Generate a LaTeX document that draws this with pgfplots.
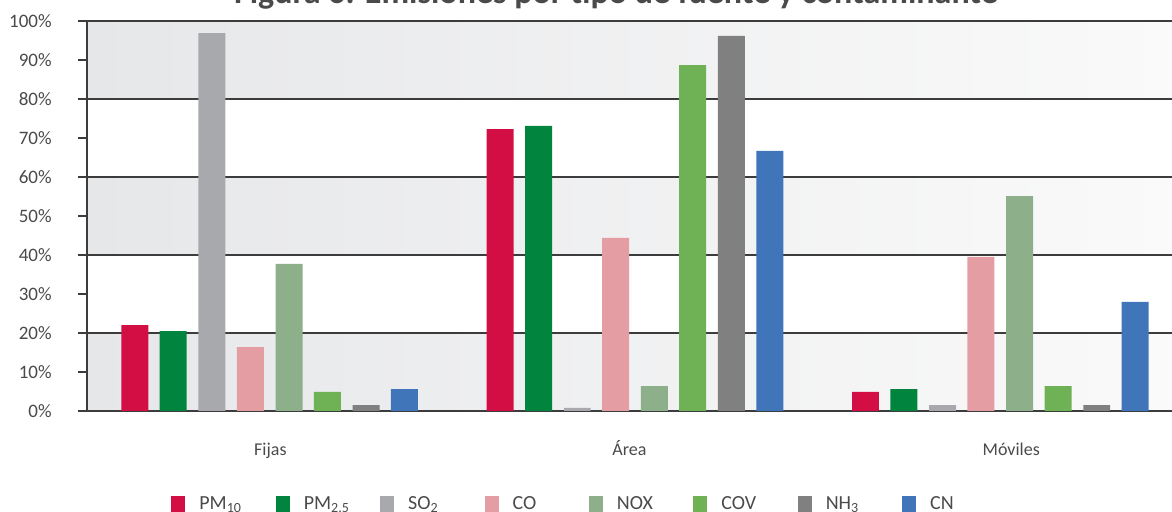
\documentclass[border=0pt]{standalone}
\usepackage{fontspec}
\setmainfont{Carlito}
\usepackage{pgfplots}
\pgfplotsset{compat=1.18}

\definecolor{cPMa}{HTML}{D30E45}
\definecolor{cPMb}{HTML}{00843E}
\definecolor{cSO}{HTML}{A8A9AC}
\definecolor{cCO}{HTML}{E39DA3}
\definecolor{cNOX}{HTML}{8DAF8A}
\definecolor{cCOV}{HTML}{6EB255}
\definecolor{cNH}{HTML}{808080}
\definecolor{cCN}{HTML}{4175BA}
\definecolor{bandL}{HTML}{E6E7E9}
\definecolor{bandR}{HTML}{FAFAFA}
\definecolor{txt}{HTML}{4A4A4A}
\definecolor{lin}{HTML}{3C3C3C}

\begin{document}
\begin{tikzpicture}
  \begin{axis}[
      set layers,
      at={(0pt,0pt)}, anchor=south west,
      scale only axis,
      width=542.5pt, height=195pt,
      xmin=-0.5, xmax=2.47,
      ymin=0, ymax=100,
      axis x line*=bottom,
      axis y line*=left,
      axis line style={lin, line width=0.6pt},
      % label positions (not quite centred)
      xtick={0.002,0.985,2.03},
      xticklabels={Fijas, Área, Móviles},
      xtick style={draw=none},
      xticklabel style={font=\fontsize{9}{10}\selectfont, text=txt,
        anchor=base, inner sep=0pt, yshift=-18pt},
      ytick={0,10,...,100},
      yticklabels={0\%,10\%,20\%,30\%,40\%,50\%,60\%,70\%,80\%,90\%,100\%},
      yticklabel style={font=\fontsize{9.5}{11}\selectfont, text=txt,
        anchor=east, inner sep=0pt, xshift=-13pt},
      tick align=outside,
      major tick length=4.5pt,
      ytick style={lin, line width=0.6pt},
      extra y ticks={20,40,60,80,100},
      extra y tick labels={},
      extra y tick style={grid=major},
      major grid style={lin, line width=0.7pt},
      every axis plot/.append style={ybar, bar width=0.0738, draw=none,
        legend image code/.code={\fill[##1] (0pt,-4.25pt) rectangle (7pt,4.25pt);}},
      legend columns=8,
      legend style={at={(0.0774,-0.2410)}, anchor=west, draw=none, fill=none,
        inner sep=0pt, font=\fontsize{10}{11}\selectfont, text=txt,
        nodes={inner sep=0pt, text width=38.2pt, align=left},
        /tikz/every odd column/.append style={column sep=7pt}},
    ]

    % background bands, lighter to the right
    \begin{pgfonlayer}{axis background}
      \fill[left color=bandL, right color=bandR] (rel axis cs:0,0) rectangle (rel axis cs:1,0.2);
      \fill[left color=bandL, right color=bandR] (rel axis cs:0,0.4) rectangle (rel axis cs:1,0.6);
      \fill[left color=bandL, right color=bandR] (rel axis cs:0,0.8) rectangle (rel axis cs:1,1);
    \end{pgfonlayer}

    % Fijas, Área, Móviles
    \addplot[fill=cPMa, bar shift=-0.369] coordinates {(0,22.0) (1,72.3) (2,4.9)};
    \addlegendentry{PM\textsubscript{10}}
    \addplot[fill=cPMb, bar shift=-0.264] coordinates {(0,20.5) (1,73.1) (2,5.6)};
    \addlegendentry{PM\textsubscript{2.5}}
    \addplot[fill=cSO, bar shift=-0.158] coordinates {(0,96.9) (1,0.8) (2,1.5)};
    \addlegendentry{SO\textsubscript{2}}
    \addplot[fill=cCO, bar shift=-0.053] coordinates {(0,16.4) (1,44.4) (2,39.5)};
    \addlegendentry{CO}
    \addplot[fill=cNOX, bar shift=0.053] coordinates {(0,37.7) (1,6.4) (2,55.1)};
    \addlegendentry{NOX}
    \addplot[fill=cCOV, bar shift=0.158] coordinates {(0,4.9) (1,88.7) (2,6.4)};
    \addlegendentry{COV}
    \addplot[fill=cNH, bar shift=0.264] coordinates {(0,1.5) (1,96.2) (2,1.5)};
    \addlegendentry{NH\textsubscript{3}}
    \addplot[fill=cCN, bar shift=0.369] coordinates {(0,5.6) (1,66.7) (2,28.0)};
    \addlegendentry{CN}
  \end{axis}

  \node[anchor=base, font=\fontsize{17}{20}\selectfont\bfseries, text=txt]
    at (264.5pt,203.5pt) {Figura 6. Emisiones por tipo de fuente y contaminante};

  \pgfresetboundingbox
  \useasboundingbox (-43.5pt,-50.5pt) rectangle (542.5pt,205.5pt);
\end{tikzpicture}
\end{document}
